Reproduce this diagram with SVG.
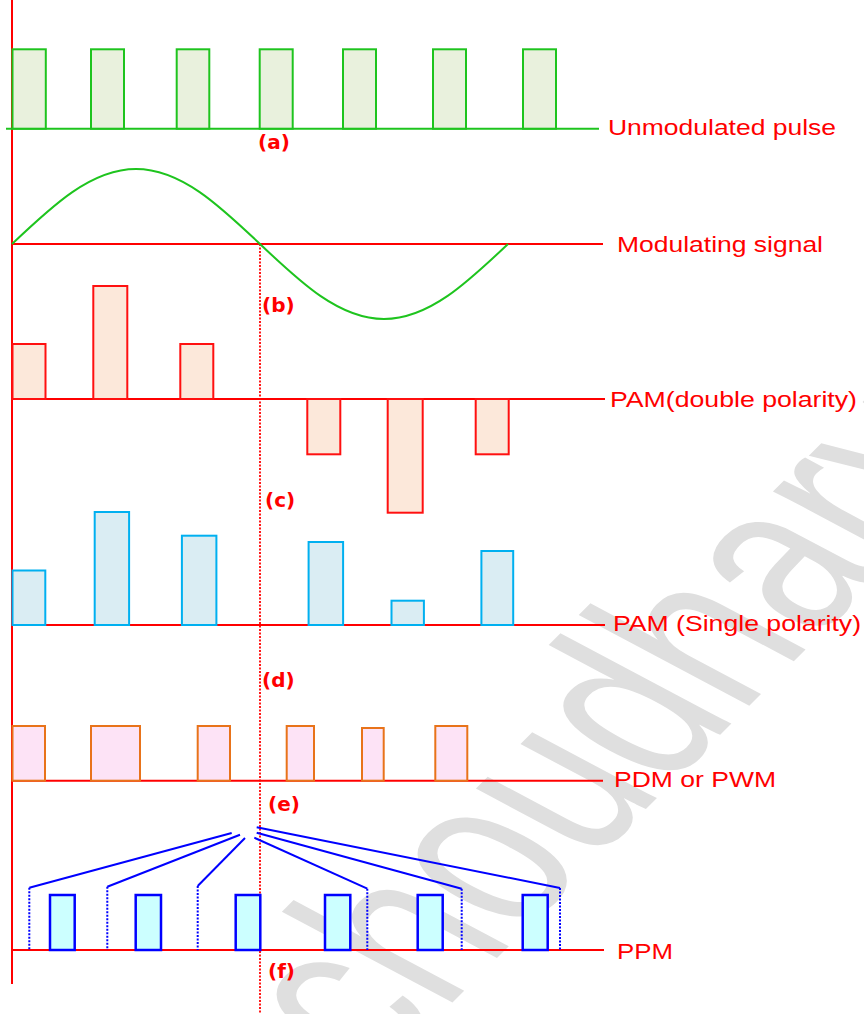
<svg xmlns="http://www.w3.org/2000/svg" width="864" height="1014" viewBox="0 0 864 1014">
<style>
.lbl{font-family:"Liberation Sans",Arial,sans-serif;font-size:22px;fill:#ff0000}
.sub{font-family:"DejaVu Sans",Verdana,sans-serif;font-weight:bold;font-size:20px;fill:#ff0000}
.ax{stroke:#ff0000;stroke-width:2;fill:none}
.gp{fill:#e9f1dd;stroke:#1ec41e;stroke-width:2}
.pd{fill:#fce8da;stroke:#ff1010;stroke-width:2}
.ps{fill:#daedf3;stroke:#00b0f0;stroke-width:2}
.pw{fill:#fde3f6;stroke:#e8731a;stroke-width:2}
.pp{fill:#ccffff;stroke:#0000ff;stroke-width:2.5}
.cn{stroke:#0000ff;stroke-width:2;fill:none}
.dt{stroke:#0000ff;stroke-width:2;stroke-dasharray:2,1.5;fill:none}
.wm{font-family:"Liberation Sans",Arial,sans-serif;font-size:255px;fill:#dfdfdf}
</style>
<rect width="864" height="1014" fill="#ffffff"/>
<g id="watermark">
<text class="wm" transform="translate(455,1000) rotate(-45) skewX(17) scale(0.74,1)" x="-150" y="0">choudhary</text>
</g>
<g id="axis">
<line class="ax" x1="12" y1="0" x2="12" y2="984"/>
<line x1="260" y1="244" x2="260" y2="1014" stroke="#ff0000" stroke-width="1.8" stroke-dasharray="2,1.5"/>
</g>
<g id="unmodulated">
<line x1="6" y1="128.7" x2="599" y2="128.7" stroke="#1ec41e" stroke-width="2"/>
<rect class="gp" x="12.5" y="49.3" width="33.3" height="79.4"/>
<rect class="gp" x="91" y="49.3" width="33" height="79.4"/>
<rect class="gp" x="176.7" y="49.3" width="32.6" height="79.4"/>
<rect class="gp" x="259.7" y="49.3" width="33" height="79.4"/>
<rect class="gp" x="343" y="49.3" width="33" height="79.4"/>
<rect class="gp" x="433" y="49.3" width="33" height="79.4"/>
<rect class="gp" x="523" y="49.3" width="33" height="79.4"/>
<text class="lbl" x="608" y="135" textLength="228" lengthAdjust="spacingAndGlyphs">Unmodulated pulse</text>
<text class="sub" x="258" y="149">(a)</text>
</g>
<g id="modulating">
<line class="ax" x1="12" y1="244" x2="603" y2="244"/>
<path d="M12,244 C52.44,205.58 91.12,169 136,169 C180.88,169 219.56,205.58 260,244 C300.44,282.42 339.12,319 384,319 C428.88,319 467.56,282.42 508,244" fill="none" stroke="#1ec41e" stroke-width="2"/>
<text class="lbl" x="617" y="252" textLength="206" lengthAdjust="spacingAndGlyphs">Modulating signal</text>
<text class="sub" x="262" y="312">(b)</text>
</g>
<g id="pam-double">
<line class="ax" x1="12" y1="399" x2="605" y2="399"/>
<rect class="pd" x="12.5" y="344" width="33" height="55"/>
<rect class="pd" x="93.3" y="286" width="34" height="113"/>
<rect class="pd" x="180.3" y="344" width="33" height="55"/>
<rect class="pd" x="307.3" y="399" width="33" height="55.3"/>
<rect class="pd" x="387.7" y="399" width="35" height="113.7"/>
<rect class="pd" x="475.7" y="399" width="33" height="55.3"/>
<text class="lbl" x="610" y="407" textLength="247" lengthAdjust="spacingAndGlyphs">PAM(double polarity)</text>
<text class="sub" x="265" y="507">(c)</text>
</g>
<g id="pam-single">
<line class="ax" x1="12" y1="625" x2="605" y2="625"/>
<rect class="ps" x="12.5" y="570.5" width="32.8" height="54.5"/>
<rect class="ps" x="94.7" y="512" width="34.4" height="113"/>
<rect class="ps" x="181.9" y="535.7" width="34.5" height="89.3"/>
<rect class="ps" x="308.6" y="542" width="34.5" height="83"/>
<rect class="ps" x="391.5" y="600.7" width="32.4" height="24.3"/>
<rect class="ps" x="481.4" y="551" width="31.8" height="74"/>
<text class="lbl" x="613" y="631" textLength="248" lengthAdjust="spacingAndGlyphs">PAM (Single polarity)</text>
<text class="sub" x="262" y="687">(d)</text>
</g>
<g id="pdm">
<line class="ax" x1="12" y1="780.7" x2="603" y2="780.7"/>
<rect class="pw" x="12.5" y="726" width="32.5" height="54.7"/>
<rect class="pw" x="91" y="726" width="49" height="54.7"/>
<rect class="pw" x="197.7" y="726" width="32.3" height="54.7"/>
<rect class="pw" x="286.7" y="726" width="27.3" height="54.7"/>
<rect class="pw" x="362" y="728" width="21.7" height="52.7"/>
<rect class="pw" x="435.3" y="726" width="32" height="54.7"/>
<text class="lbl" x="614" y="787" textLength="162" lengthAdjust="spacingAndGlyphs">PDM or PWM</text>
<text class="sub" x="268" y="811">(e)</text>
</g>
<g id="ppm">
<line class="ax" x1="12" y1="950" x2="604" y2="950"/>
<rect class="pp" x="50" y="895" width="24.7" height="55"/>
<rect class="pp" x="135.7" y="895" width="25.3" height="55"/>
<rect class="pp" x="235.7" y="895" width="24.6" height="55"/>
<rect class="pp" x="325" y="895" width="25.3" height="55"/>
<rect class="pp" x="417.7" y="895" width="25" height="55"/>
<rect class="pp" x="522.7" y="895" width="25" height="55"/>
<text class="lbl" x="617" y="959" textLength="56" lengthAdjust="spacingAndGlyphs">PPM</text>
<text class="sub" x="268" y="978">(f)</text>
</g>
<g id="connectors">
<line class="dt" x1="29.3" y1="887.7" x2="29.3" y2="950"/>
<line class="dt" x1="107.3" y1="886.7" x2="107.3" y2="950"/>
<line class="dt" x1="197.7" y1="886" x2="197.7" y2="950"/>
<line class="dt" x1="367.3" y1="888.7" x2="367.3" y2="950"/>
<line class="dt" x1="461.7" y1="888.7" x2="461.7" y2="950"/>
<line class="dt" x1="560" y1="888" x2="560" y2="950"/>
<line class="cn" x1="29.3" y1="887.7" x2="231.7" y2="833"/>
<line class="cn" x1="107.3" y1="886.7" x2="240" y2="834.7"/>
<line class="cn" x1="197.7" y1="886" x2="245" y2="838"/>
<line class="cn" x1="367.3" y1="888.7" x2="254.3" y2="837.7"/>
<line class="cn" x1="461.7" y1="888.7" x2="256.7" y2="832.7"/>
<line class="cn" x1="560" y1="888" x2="256.7" y2="827.3"/>
</g>
</svg>
